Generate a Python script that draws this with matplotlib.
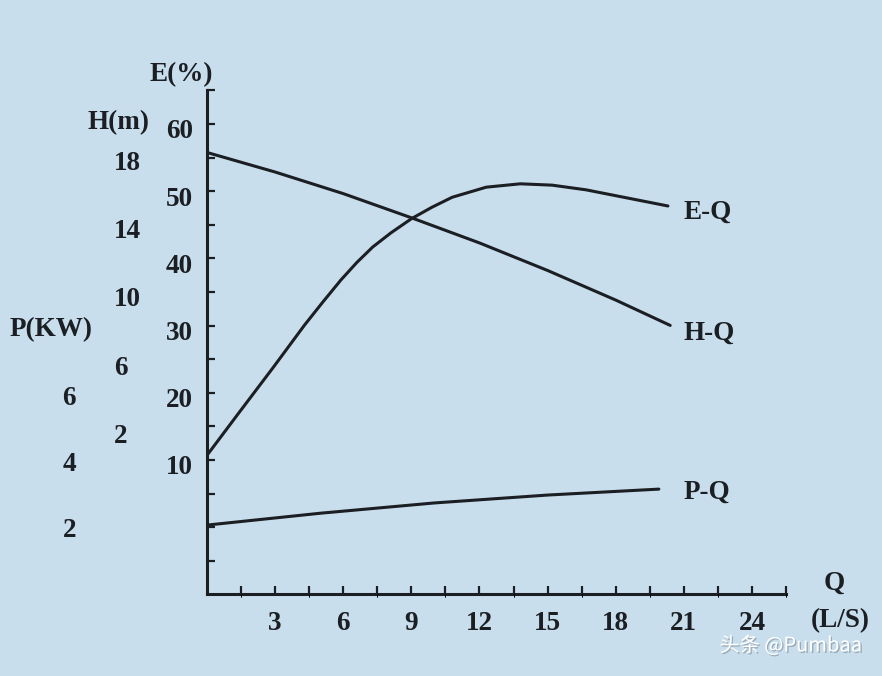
import numpy as np
import matplotlib.pyplot as plt
import matplotlib.patheffects as pe
from matplotlib.transforms import ScaledTranslation

# flow Q (L/S) and the three characteristic curves
q_e = [0, 1.4, 2.9, 4.3, 5.1, 5.9, 6.6, 7.3, 8.1, 9.0, 9.9, 10.8, 12.3, 13.8, 15.2, 16.7, 18.2, 20.3]
eff = [10.7, 17.0, 23.7, 30.1, 33.5, 36.8, 39.4, 41.7, 43.8, 45.9, 47.6, 49.1, 50.6, 51.1, 50.9, 50.2, 49.2, 47.8]

q_h = [0, 3, 6, 9, 12, 15, 18, 20.4]
head = [18.5, 17.35, 16.08, 14.66, 13.18, 11.56, 9.82, 8.33]

q_p = [0, 5, 10, 15, 19.9]
power = [2.06, 2.42, 2.73, 2.97, 3.15]

q_ticks = [3, 6, 9, 12, 15, 18, 21, 24]
e_ticks = [10, 20, 30, 40, 50, 60]
h_ticks = [2, 6, 10, 14, 18]
p_ticks = [2, 4, 6]

bg = '#c9deed'
ink = '#1b1f23'

plt.rcParams['font.family'] = ['Liberation Serif', 'DejaVu Serif']
plt.rcParams['font.weight'] = 'bold'
fs = 19.5

fig = plt.figure(figsize=(8.82, 6.76), dpi=100, facecolor=bg)
rect = [207 / 882, 81.6 / 676, 579 / 882, 504 / 676]

# main axes: efficiency
ax = fig.add_axes(rect)
ax.set_facecolor('none')
ax.set_xlim(0, 25.5)
ax.set_ylim(-10, 65)
for s in ['top', 'right']:
    ax.spines[s].set_visible(False)
for s in ['left', 'bottom']:
    ax.spines[s].set_linewidth(2.2)
    ax.spines[s].set_color(ink)
ax.set_xticks(q_ticks)
ax.set_xticks(np.arange(1.5, 25.6, 3), minor=True)
ax.set_yticks(e_ticks)
ax.set_yticks([-5, 0, 5, 15, 25, 35, 45, 55, 65], minor=True)
ax.tick_params(which='both', direction='in', length=6, width=1.6, color=ink)
ax.tick_params(axis='y', labelsize=fs, labelcolor=ink, pad=10)
ax.tick_params(axis='x', labelsize=fs, labelcolor=ink, pad=12)
shift = ScaledTranslation(0, -5 / 100, fig.dpi_scale_trans)
for t in ax.get_yticklabels():
    t.set_transform(t.get_transform() + shift)
ax.plot(q_e, eff, color=ink, lw=2.2, solid_capstyle='round', solid_joinstyle='round')
ax.text(21.0, 46.8, 'E-Q', fontsize=fs, color=ink, va='center', ha='left')

# head axes
ax_h = fig.add_axes(rect, sharex=ax)
ax_h.patch.set_visible(False)
for s in ax_h.spines.values():
    s.set_visible(False)
ax_h.set_ylim(-7.49, 22.15)
ax_h.set_yticks(h_ticks)
ax_h.tick_params(axis='y', length=0, pad=67, labelsize=fs, labelcolor=ink)
for t in ax_h.get_yticklabels():
    t.set_ha('left')
ax_h.tick_params(axis='x', bottom=False, labelbottom=False)
ax_h.plot(q_h, head, color=ink, lw=2.2, solid_capstyle='round', solid_joinstyle='round')
ax_h.text(21.0, 7.88, 'H-Q', fontsize=fs, color=ink, va='center', ha='left')

# power axes
ax_p = fig.add_axes(rect, sharex=ax)
ax_p.patch.set_visible(False)
for s in ax_p.spines.values():
    s.set_visible(False)
ax_p.set_ylim(-0.04, 15.23)
ax_p.set_yticks(p_ticks)
ax_p.tick_params(axis='y', length=0, pad=104, labelsize=fs, labelcolor=ink)
for t in ax_p.get_yticklabels():
    t.set_ha('left')
ax_p.tick_params(axis='x', bottom=False, labelbottom=False)
ax_p.plot(q_p, power, color=ink, lw=2.2, solid_capstyle='round')
ax_p.text(21.0, 3.06, 'P-Q', fontsize=fs, color=ink, va='center', ha='left')

# axis titles
W, H = 882, 676
fig.text(150 / W, 1 - 75 / H, 'E(%)', fontsize=fs, color=ink, va='center', ha='left')
fig.text(88 / W, 1 - 123 / H, 'H(m)', fontsize=fs, color=ink, va='center', ha='left')
fig.text(10 / W, 1 - 330 / H, 'P(KW)', fontsize=fs, color=ink, va='center', ha='left')
fig.text(834 / W, 1 - 583 / H, 'Q', fontsize=fs, color=ink, va='center', ha='center')
fig.text(840 / W, 1 - 621 / H, '(L/S)', fontsize=fs, color=ink, va='center', ha='center')

# watermark
fig.text(862 / W, 1 - 646 / H, '头条 @Pumbaa', fontsize=14.5, color='white',
         family=['Noto Sans CJK SC', 'DejaVu Sans'], weight='normal',
         va='center', ha='right',
         path_effects=[pe.withSimplePatchShadow(offset=(1, -1), shadow_rgbFace='#7a8a96', alpha=0.6)])

fig.savefig('out.png', dpi=100, facecolor=bg)
